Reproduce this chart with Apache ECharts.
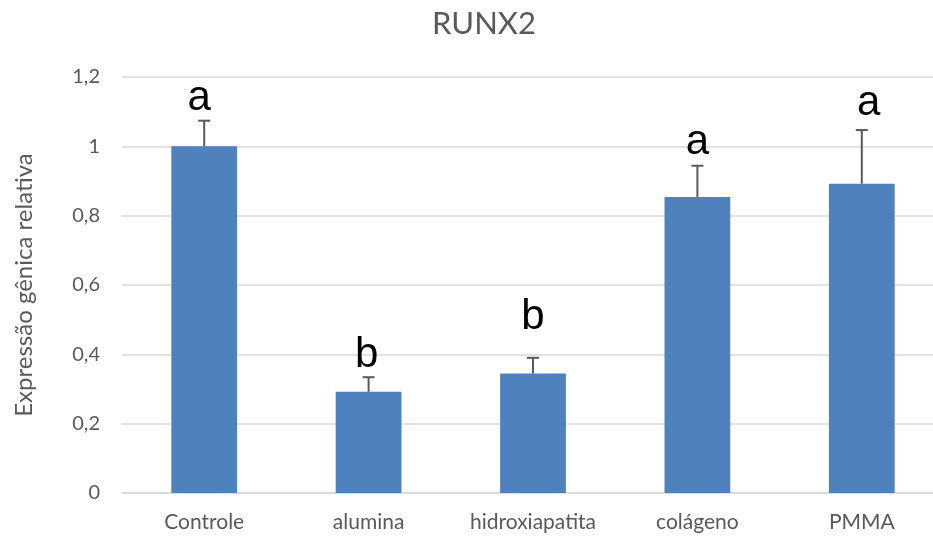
<!DOCTYPE html>
<html>
<head>
<meta charset="utf-8">
<script src="https://cdn.jsdelivr.net/npm/echarts@6/dist/echarts.min.js"></script>
<style>
  html, body { margin: 0; padding: 0; background: #fff; }
  #chart { width: 933px; height: 537px; }
</style>
</head>
<body>
<div id="chart"></div>
<script>
// RUNX2 relative gene expression per material
const categories = ['Controle', 'alumina', 'hidroxiapatita', 'colágeno', 'PMMA'];
const means = [1.0, 0.292, 0.345, 0.854, 0.892];
const upperErrors = [1.074, 0.334, 0.390, 0.944, 1.047];
const groupLetters = ['a', 'b', 'b', 'a', 'a'];
const yTicks = { min: 0, max: 1.2, interval: 0.2 };

const FONT = 'Lato, "Open Sans", sans-serif';
const GRAY = '#595959';
// hand-placed letter boxes: gap above the error cap and horizontal nudge (px)
const LETTER_GAP = [12, 12, 30, 13, 17];
const LETTER_NUDGE = [-5, -2, 0, 0, 7];

const chart = echarts.init(document.getElementById('chart'));

chart.setOption({
  animation: false,
  backgroundColor: '#fff',
  graphic: [{
    type: 'text',
    x: 484,
    y: 24,
    style: {
      text: 'RUNX2', fill: GRAY, fontFamily: FONT, fontSize: 31,
      align: 'center', verticalAlign: 'middle'
    }
  }],
  grid: { left: 122, top: 77, width: 822, height: 416, outerBoundsMode: 'none', containLabel: false },
  xAxis: {
    type: 'category',
    data: categories,
    axisTick: { show: false },
    axisLine: { lineStyle: { color: '#d9d9d9', width: 1.5 } },
    axisLabel: { fontFamily: FONT, fontSize: 21, color: GRAY, margin: 19 }
  },
  yAxis: {
    type: 'value',
    min: yTicks.min,
    max: yTicks.max,
    interval: yTicks.interval,
    name: 'Expressão gênica relativa',
    nameLocation: 'middle',
    nameGap: 86,
    nameTextStyle: { fontFamily: FONT, fontSize: 24, color: GRAY },
    axisLine: { show: false },
    axisTick: { show: false },
    splitLine: { lineStyle: { color: '#d9d9d9', width: 1.5 } },
    axisLabel: {
      fontFamily: FONT, fontSize: 20, color: GRAY, margin: 22,
      formatter: v => String(Math.round(v * 10) / 10).replace('.', ',')
    }
  },
  series: [
    {
      type: 'bar',
      data: means,
      barWidth: '40%',
      itemStyle: { color: '#4f81bd' }
    },
    {
      type: 'custom',
      data: categories.map((c, i) => [i, means[i], upperErrors[i]]),
      z: 5,
      renderItem: function (params, api) {
        const i = api.value(0);
        const base = api.coord([i, api.value(1)]);
        const top = api.coord([i, api.value(2)]);
        const cap = 6;
        return {
          type: 'group',
          children: [
            { type: 'line', shape: { x1: base[0], y1: base[1], x2: top[0], y2: top[1] },
              style: { stroke: GRAY, lineWidth: 2 } },
            { type: 'line', shape: { x1: top[0] - cap, y1: top[1], x2: top[0] + cap, y2: top[1] },
              style: { stroke: GRAY, lineWidth: 2 } },
            { type: 'text', x: top[0] + LETTER_NUDGE[i], y: top[1] - LETTER_GAP[i] + 11,
              style: { text: groupLetters[i], fill: '#000', fontFamily: '"Liberation Sans", Arial, sans-serif',
                       fontSize: 42, align: 'center', verticalAlign: 'bottom' } }
          ]
        };
      }
    }
  ]
});
</script>
</body>
</html>
